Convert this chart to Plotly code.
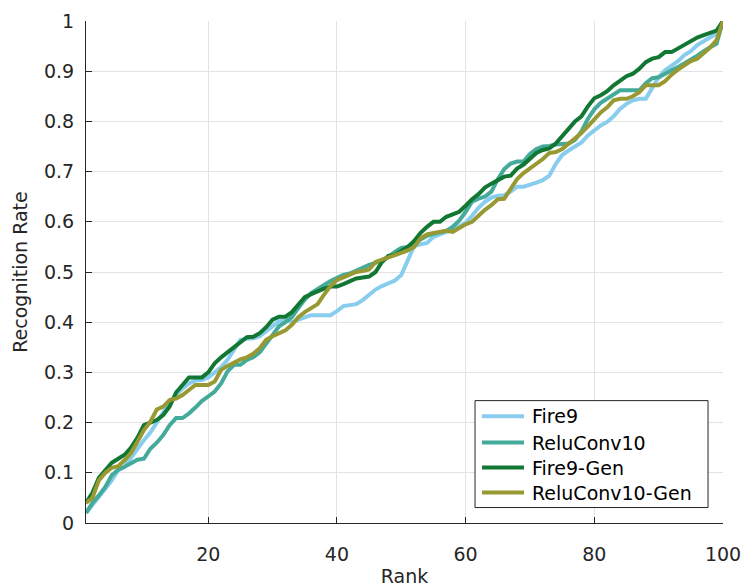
import plotly.graph_objects as go

ranks = list(range(1, 101))

fire9 = [0.02, 0.035, 0.05, 0.068, 0.085, 0.105, 0.112, 0.13, 0.145, 0.165,
         0.18, 0.2, 0.22, 0.24, 0.255, 0.268, 0.278, 0.284, 0.285, 0.29,
         0.3, 0.31, 0.325, 0.345, 0.365, 0.367, 0.368, 0.372, 0.382, 0.392,
         0.402, 0.404, 0.4, 0.405, 0.41, 0.414, 0.414, 0.414, 0.414, 0.422,
         0.432, 0.434, 0.436, 0.444, 0.455, 0.465, 0.472, 0.477, 0.483, 0.494,
         0.525, 0.552, 0.555, 0.558, 0.57, 0.576, 0.58, 0.583, 0.59, 0.598,
         0.612, 0.628, 0.64, 0.648, 0.652, 0.653, 0.66, 0.67, 0.67, 0.673,
         0.678, 0.683, 0.692, 0.715, 0.733, 0.742, 0.75, 0.758, 0.772, 0.782,
         0.792, 0.799, 0.81, 0.825, 0.835, 0.842, 0.845, 0.845, 0.865, 0.888,
         0.902, 0.91, 0.92, 0.932, 0.94, 0.952, 0.96, 0.968, 0.975, 1.0]

reluconv10 = [0.02, 0.04, 0.055, 0.072, 0.095, 0.106, 0.112, 0.12, 0.126, 0.128,
              0.148, 0.16, 0.175, 0.195, 0.209, 0.209, 0.218, 0.23, 0.243, 0.252,
              0.262, 0.278, 0.302, 0.315, 0.315, 0.325, 0.33, 0.34, 0.357, 0.375,
              0.392, 0.4, 0.41, 0.428, 0.445, 0.458, 0.465, 0.474, 0.482, 0.488,
              0.494, 0.497, 0.503, 0.51, 0.514, 0.518, 0.524, 0.53, 0.54, 0.548,
              0.55, 0.556, 0.565, 0.572, 0.576, 0.58, 0.582, 0.59, 0.602, 0.62,
              0.64, 0.646, 0.65, 0.66, 0.685, 0.705, 0.716, 0.72, 0.72, 0.735,
              0.745, 0.75, 0.751, 0.754, 0.756, 0.756, 0.763, 0.78, 0.805, 0.824,
              0.837, 0.845, 0.854, 0.862, 0.862, 0.862, 0.862, 0.876, 0.886, 0.888,
              0.896, 0.902, 0.908, 0.915, 0.923, 0.931, 0.94, 0.947, 0.955, 1.0]

fire9_gen = [0.04, 0.06, 0.09, 0.105, 0.12, 0.128, 0.136, 0.15, 0.17, 0.195,
             0.2, 0.205, 0.215, 0.232, 0.26, 0.275, 0.29, 0.29, 0.29, 0.3,
             0.318, 0.33, 0.34, 0.35, 0.362, 0.37, 0.371, 0.378, 0.39, 0.405,
             0.411, 0.411, 0.42, 0.435, 0.45, 0.456, 0.462, 0.467, 0.471, 0.471,
             0.476, 0.482, 0.487, 0.489, 0.491, 0.5, 0.52, 0.532, 0.534, 0.542,
             0.55, 0.562, 0.578, 0.59, 0.6, 0.6, 0.61, 0.615, 0.62, 0.632,
             0.645, 0.655, 0.668, 0.676, 0.683, 0.69, 0.692, 0.706, 0.714, 0.725,
             0.737, 0.743, 0.746, 0.756, 0.772, 0.785, 0.8, 0.81, 0.83, 0.846,
             0.852, 0.86, 0.872, 0.882, 0.89, 0.895, 0.905, 0.918, 0.925, 0.928,
             0.938, 0.938, 0.945, 0.952, 0.961, 0.967, 0.972, 0.976, 0.981, 1.0]

reluconv10_gen = [0.04, 0.05, 0.085, 0.1, 0.11, 0.113, 0.125, 0.14, 0.162, 0.185,
                  0.202, 0.226, 0.232, 0.245, 0.248, 0.255, 0.265, 0.275, 0.275, 0.275,
                  0.282, 0.305, 0.313, 0.32, 0.326, 0.33, 0.337, 0.348, 0.365, 0.372,
                  0.378, 0.384, 0.395, 0.41, 0.42, 0.428, 0.436, 0.455, 0.472, 0.484,
                  0.49, 0.496, 0.5, 0.502, 0.505, 0.52, 0.524, 0.529, 0.533, 0.538,
                  0.543, 0.55, 0.567, 0.575, 0.578, 0.58, 0.582, 0.58, 0.588, 0.595,
                  0.6, 0.612, 0.624, 0.633, 0.645, 0.646, 0.665, 0.685, 0.697, 0.706,
                  0.714, 0.725, 0.737, 0.739, 0.745, 0.755, 0.765, 0.777, 0.79, 0.803,
                  0.818, 0.828, 0.842, 0.845, 0.845, 0.85, 0.858, 0.872, 0.872, 0.872,
                  0.88, 0.893, 0.903, 0.912, 0.92, 0.925, 0.935, 0.947, 0.962, 1.0]

series_names = ["Fire9", "ReluConv10", "Fire9-Gen", "ReluConv10-Gen"]
series_values = [fire9, reluconv10, fire9_gen, reluconv10_gen]
series_colors = ["#88CCEE", "#44AA99", "#117733", "#999933"]

x_ticks = [20, 40, 60, 80, 100]
y_ticks = [0, 0.1, 0.2, 0.3, 0.4, 0.5, 0.6, 0.7, 0.8, 0.9, 1]
y_labels = ["0", "0.1", "0.2", "0.3", "0.4", "0.5", "0.6", "0.7", "0.8", "0.9", "1"]

fig = go.Figure()
for name, vals, color in zip(series_names, series_values, series_colors):
    fig.add_trace(go.Scatter(x=ranks, y=vals, mode="lines", name=name,
                             line=dict(color=color, width=4), showlegend=False))

axis_color = "#262626"
font_family = "DejaVu Sans, sans-serif"

# Legend box (MATLAB-style) built in paper coordinates
leg_x0, leg_x1, leg_y0, leg_y1 = 0.6107, 0.9765, 0.0308, 0.2438
entry_y = [0.2125, 0.1602, 0.1104, 0.0607]
line_x0, line_x1, text_x = 0.6217, 0.6876, 0.697

shapes = [dict(type="rect", xref="paper", yref="paper", x0=leg_x0, x1=leg_x1,
               y0=leg_y0, y1=leg_y1, line=dict(color=axis_color, width=1),
               fillcolor="white", layer="above")]
annotations = []
for name, color, ey in zip(series_names, series_colors, entry_y):
    shapes.append(dict(type="line", xref="paper", yref="paper", x0=line_x0, x1=line_x1,
                       y0=ey, y1=ey, line=dict(color=color, width=4), layer="above"))
    annotations.append(dict(text=name, xref="paper", yref="paper", x=text_x, y=ey,
                            xanchor="left", yanchor="middle", showarrow=False,
                            font=dict(size=19, color="#000000", family=font_family)))

fig.update_layout(
    width=741, height=587,
    margin=dict(l=86, r=18, t=21, b=64),
    paper_bgcolor="white", plot_bgcolor="white",
    font=dict(family=font_family, size=19, color=axis_color),
    showlegend=False,
    hovermode=False,
    shapes=shapes,
    annotations=annotations,
    xaxis=dict(range=[1, 100], tickvals=x_ticks, ticks="inside", ticklen=6,
               tickcolor=axis_color, showline=True, linecolor=axis_color, linewidth=1,
               showgrid=True, gridcolor="#e3e3e3", gridwidth=1, zeroline=False,
               automargin=False, ticklabeloverflow="allow",
               title=dict(text="Rank", standoff=9, font=dict(size=19)),
               tickfont=dict(size=19), ticklabelstandoff=14),
    yaxis=dict(range=[0, 1], tickvals=y_ticks, ticktext=y_labels, ticks="inside", ticklen=6,
               tickcolor=axis_color, showline=True, linecolor=axis_color, linewidth=1,
               showgrid=True, gridcolor="#e3e3e3", gridwidth=1, zeroline=False,
               automargin=False, ticklabeloverflow="allow",
               title=dict(text="Recognition Rate", standoff=11, font=dict(size=19)),
               tickfont=dict(size=19), ticklabelstandoff=7),
)

fig.write_html("out.html", config={"displayModeBar": False},
               post_script="document.body.style.margin='0';document.body.style.overflow='hidden';")
